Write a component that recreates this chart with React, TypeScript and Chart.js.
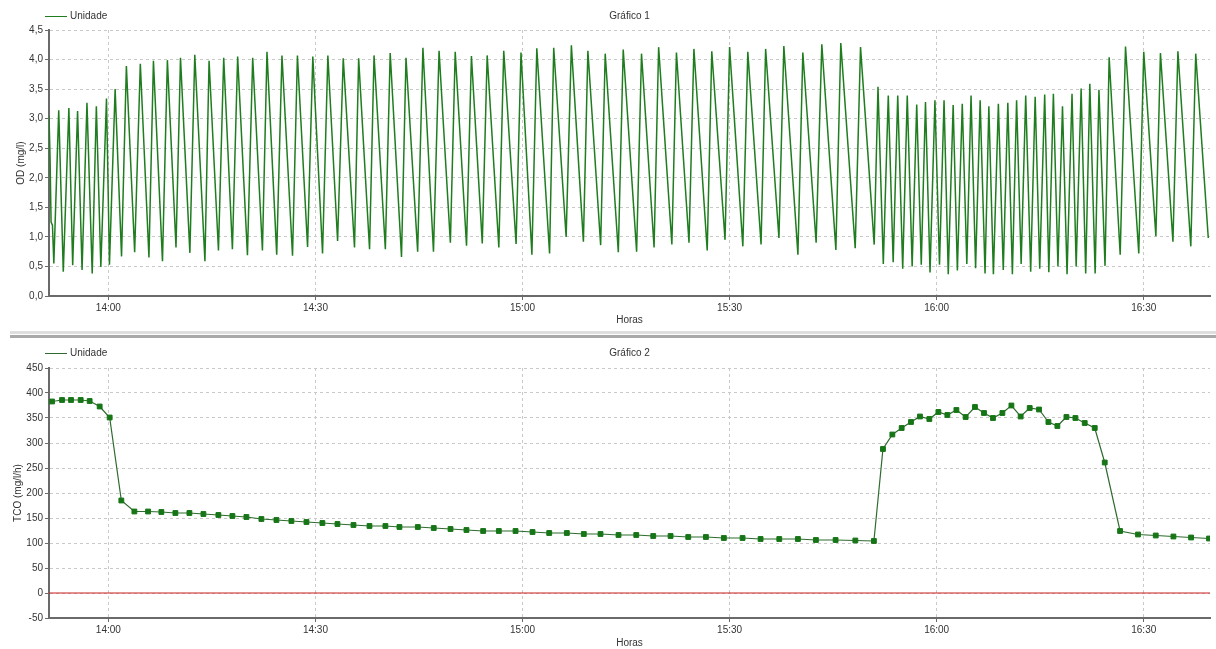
import { useEffect, useRef } from "react";
import { Chart, registerables } from "chart.js";

Chart.register(...registerables);

// ---- shared time axis (minutes relative to 14:00) ----
const X_MIN = -8.6;
const X_MAX = 159.6;
const xTickMinutes = [0, 30, 60, 90, 120, 150];
const xTickLabels = ["14:00", "14:30", "15:00", "15:30", "16:00", "16:30"];

// ---- Gráfico 1 : OD (mg/l) ----
const odMinutes = [
  -8.6, -8.45, -8.3, -8.1, -7.9,
  -7.19, -6.53, -5.72, -5.17, -4.46, -3.81, -3.1, -2.34, -1.74, -1.09, -0.27, 0.16, 0.98, 1.91,
  2.61, 3.81, 4.63, 5.88, 6.53, 7.84, 8.55, 9.8, 10.45, 11.81, 12.52, 13.99, 14.59, 15.95, 16.71, 17.97,
  18.73, 20.15, 20.91, 22.32, 22.98, 24.39, 25.15, 26.68, 27.39, 28.86, 29.62, 31.03, 31.8, 33.21,
  34.03, 35.66, 36.26, 37.84, 38.49, 40.13, 40.83, 42.47, 43.12, 44.81, 45.57, 47.1, 47.91, 49.55,
  50.25, 51.89, 52.6, 54.17, 54.88, 56.57, 57.28, 59.07, 59.78, 61.36, 62.07, 63.92, 64.52, 66.32,
  67.08, 68.82, 69.47, 71.32, 71.98, 73.88, 74.59, 76.53, 77.24, 79.06, 79.72, 81.64, 82.3, 84.12,
  84.83, 86.76, 87.42, 89.34, 90.0, 91.92, 92.64, 94.56, 95.22, 97.15, 97.86, 99.9, 100.61, 102.54,
  103.36, 105.4, 106.11, 108.2, 108.97, 110.95,
  111.5, 112.27, 112.99, 113.7, 114.36, 115.08, 115.74, 116.45, 117.11, 117.77, 118.38, 119.04,
  119.75, 120.41, 121.07, 121.68, 122.39, 123.0, 123.71, 124.37, 124.98, 125.64, 126.3, 127.01,
  127.56, 128.22, 128.94, 129.65, 130.31, 130.97, 131.58, 132.24, 132.9, 133.62, 134.27, 134.93,
  135.65, 136.25, 136.91, 137.57, 138.23, 138.89, 139.61, 140.21, 140.93, 141.59, 142.19, 142.96,
  143.51, 144.39,
  144.99, 146.59, 147.36, 149.28, 150.0, 151.76, 152.42, 154.23, 154.95, 156.82, 157.53, 159.35,
];
const odValues = [
  3.05, 2.35, 1.25, 1.2, 0.55,
  3.14, 0.41, 3.18, 0.52, 3.13, 0.44, 3.27, 0.38, 3.21, 0.49, 3.34, 0.53, 3.5, 0.67,
  3.89, 0.74, 3.93, 0.65, 3.98, 0.59, 3.99, 0.82, 4.03, 0.73, 4.08, 0.59, 3.98, 0.77, 4.03, 0.79,
  4.05, 0.69, 4.03, 0.77, 4.13, 0.7, 4.07, 0.68, 4.07, 0.83, 4.05, 0.72, 4.07, 0.93,
  4.02, 0.82, 4.02, 0.79, 4.07, 0.79, 4.11, 0.66, 4.03, 0.75, 4.2, 0.75, 4.15, 0.9,
  4.13, 0.85, 4.06, 0.89, 4.07, 0.82, 4.15, 0.88, 4.12, 0.7, 4.19, 0.72, 4.2, 1.0,
  4.24, 0.92, 4.15, 0.86, 4.1, 0.74, 4.17, 0.75, 4.1, 0.82, 4.21, 0.87, 4.12, 0.9,
  4.18, 0.77, 4.14, 0.95, 4.21, 0.84, 4.13, 0.87, 4.18, 0.98, 4.23, 0.7, 4.12, 0.9,
  4.26, 0.78, 4.28, 0.81, 4.21, 0.87,
  3.54, 0.54, 3.39, 0.57, 3.39, 0.46, 3.39, 0.5, 3.24, 0.53, 3.28, 0.4,
  3.31, 0.53, 3.31, 0.37, 3.23, 0.43, 3.25, 0.54, 3.39, 0.47, 3.31, 0.38,
  3.21, 0.37, 3.25, 0.44, 3.27, 0.37, 3.31, 0.54, 3.39, 0.41, 3.37, 0.46,
  3.41, 0.4, 3.42, 0.5, 3.21, 0.37, 3.42, 0.5, 3.51, 0.38, 3.59, 0.38,
  3.49, 0.51,
  4.04, 0.7, 4.22, 0.72, 4.13, 1.01, 4.11, 0.92, 4.14, 0.84, 4.1, 0.98,
];
const odTicks = [0, 0.5, 1, 1.5, 2, 2.5, 3, 3.5, 4, 4.5];
const odTickLabels = ["0,0", "0,5", "1,0", "1,5", "2,0", "2,5", "3,0", "3,5", "4,0", "4,5"];

// ---- Gráfico 2 : TCO (mg/l/h) ----
const tcoMinutes = [
  -8.16, -6.71, -5.41, -4.01, -2.71, -1.26, 0.19,
  1.88, 3.77, 5.75, 7.68, 9.71, 11.74, 13.77, 15.94, 17.97, 20.0, 22.17, 24.35, 26.52, 28.7, 31.01,
  33.19, 35.51, 37.83, 40.14, 42.17,
  44.83, 47.14, 49.57, 51.88, 54.3, 56.57, 58.99, 61.45, 63.87, 66.42, 68.88, 71.3, 73.91, 76.48,
  78.94, 81.45, 84.01, 86.57, 89.17, 91.88, 94.49, 97.2, 99.9, 102.51, 105.36,
  108.22, 110.91, 112.22, 113.58, 114.93, 116.28, 117.58, 118.94, 120.25, 121.55, 122.86, 124.2,
  125.55, 126.86, 128.16, 129.52, 130.83, 132.17, 133.48, 134.83, 136.19, 137.49, 138.8, 140.1,
  141.45, 142.9, 144.35, 146.57, 149.17, 151.74, 154.3, 156.86, 159.46,
];
const tcoValues = [
  383, 386, 386, 386, 384, 373, 351,
  185, 163, 163, 162, 160, 160, 158, 156, 154, 152, 148, 146, 144, 142, 140,
  138, 136, 134, 134, 132,
  132, 130, 128, 126, 124, 124, 124, 122, 120, 120, 118, 118, 116, 116,
  114, 114, 112, 112, 110, 110, 108, 108, 108, 106, 106,
  105, 104, 288, 317, 330, 342, 353, 348, 362, 356, 366, 352,
  372, 360, 350, 360, 375, 353, 370, 367, 342, 334, 352, 350,
  340, 330, 261, 124, 117, 115, 113, 111, 109,
];
const tcoTicks = [-50, 0, 50, 100, 150, 200, 250, 300, 350, 400, 450];
const zeroLineValues = [0, 0];

const FONT = "'Liberation Sans', Arial, sans-serif";
const TEXT = "#333333";
const GRID = "#c9c9c9";
const AXIS = "#6a6a6a";

const headerLegend = {
  id: "headerLegend",
  afterDraw(chart: any, _args: any, opts: any) {
    const ctx = chart.ctx;
    const ds = chart.data.datasets[0];
    ctx.save();
    ctx.strokeStyle = ds.borderColor;
    ctx.lineWidth = 1;
    ctx.beginPath();
    ctx.moveTo(opts.x, opts.y + 0.5);
    ctx.lineTo(opts.x + 22, opts.y + 0.5);
    ctx.stroke();
    ctx.font = `10px ${FONT}`;
    ctx.fillStyle = TEXT;
    ctx.textAlign = "left";
    ctx.textBaseline = "middle";
    ctx.fillText(ds.label, opts.x + 25, opts.y + 0.5);
    ctx.restore();
  },
};

function xScale(axisHeight: number, titleBottom: number) {
  return {
    type: "linear",
    min: X_MIN,
    max: X_MAX,
    afterBuildTicks: (s: any) => {
      s.ticks = xTickMinutes.map((v) => ({ value: v }));
    },
    afterFit: (s: any) => {
      s.height = axisHeight;
    },
    ticks: {
      autoSkip: false,
      maxRotation: 0,
      padding: 2,
      color: TEXT,
      font: { family: FONT, size: 10 },
      callback: (_v: any, i: number) => xTickLabels[i],
    },
    grid: { color: GRID, lineWidth: 1, tickLength: 4, tickColor: AXIS, tickWidth: 1 },
    border: { color: AXIS, width: 2, dash: [3, 3] },
    title: {
      display: true,
      text: "Horas",
      color: TEXT,
      font: { family: FONT, size: 10 },
      padding: { top: 0, bottom: titleBottom },
    },
  };
}

function yScale(min: number, max: number, ticks: number[], labels: string[], title: string, titlePad: number) {
  return {
    type: "linear",
    min,
    max,
    afterBuildTicks: (s: any) => {
      s.ticks = ticks.map((v) => ({ value: v }));
    },
    afterFit: (s: any) => {
      s.width = 49;
    },
    ticks: {
      autoSkip: false,
      padding: 2,
      color: TEXT,
      font: { family: FONT, size: 10 },
      callback: (_v: any, i: number) => labels[i],
    },
    grid: { color: GRID, lineWidth: 1, tickLength: 4, tickColor: AXIS, tickWidth: 1 },
    border: { color: AXIS, width: 2, dash: [3, 3] },
    title: {
      display: true,
      text: title,
      color: TEXT,
      font: { family: FONT, size: 10 },
      padding: { top: titlePad, bottom: 0 },
    },
  };
}

export default function App() {
  const topRef = useRef<HTMLCanvasElement | null>(null);
  const botRef = useRef<HTMLCanvasElement | null>(null);

  useEffect(() => {
    const n1 = Math.min(odMinutes.length, odValues.length);
    const odData = [];
    for (let i = 0; i < n1; i++) odData.push({ x: odMinutes[i], y: odValues[i] });

    const n2 = Math.min(tcoMinutes.length, tcoValues.length);
    const tcoData = [];
    for (let i = 0; i < n2; i++) tcoData.push({ x: tcoMinutes[i], y: tcoValues[i] });

    const top = new Chart(topRef.current as HTMLCanvasElement, {
      type: "line",
      data: {
        datasets: [
          {
            label: "Unidade",
            data: odData,
            borderColor: "#1f7d1f",
            borderWidth: 1.5,
            pointRadius: 0,
            tension: 0,
          },
        ],
      },
      options: {
        responsive: false,
        animation: false,
        events: [],
        layout: { padding: { left: 0, right: 6, top: 0, bottom: 0 } },
        plugins: {
          legend: { display: false },
          tooltip: { enabled: false },
          title: {
            display: true,
            text: "Gráfico 1",
            fullSize: false,
            color: TEXT,
            font: { family: FONT, size: 10, weight: "normal" },
            padding: { top: 10, bottom: 8 },
          },
          headerLegend: { x: 45, y: 16 },
        } as any,
        scales: {
          x: xScale(34, 4) as any,
          y: yScale(0, 4.5, odTicks, odTickLabels, "OD (mg/l)", 15) as any,
        },
      },
      plugins: [headerLegend as any],
    });

    const bottom = new Chart(botRef.current as HTMLCanvasElement, {
      type: "line",
      data: {
        datasets: [
          {
            label: "Unidade",
            data: tcoData,
            borderColor: "#2f6b2f",
            borderWidth: 1.2,
            pointStyle: "rect",
            pointRadius: 3.4,
            pointBackgroundColor: "#167516",
            pointBorderColor: "#167516",
            pointBorderWidth: 1,
            tension: 0,
          },
          {
            label: "zero",
            data: [
              { x: X_MIN, y: zeroLineValues[0] },
              { x: X_MAX, y: zeroLineValues[1] },
            ],
            borderColor: "#cc1f1f",
            borderWidth: 1,
            pointRadius: 0,
          },
        ],
      },
      options: {
        responsive: false,
        animation: false,
        events: [],
        layout: { padding: { left: 0, right: 6, top: 0, bottom: 0 } },
        plugins: {
          legend: { display: false },
          tooltip: { enabled: false },
          title: {
            display: true,
            text: "Gráfico 2",
            fullSize: false,
            color: TEXT,
            font: { family: FONT, size: 10, weight: "normal" },
            padding: { top: 8, bottom: 9 },
          },
          headerLegend: { x: 45, y: 14 },
        } as any,
        scales: {
          x: xScale(31, 0) as any,
          y: yScale(-50, 450, tcoTicks, tcoTicks.map((v) => String(v)), "TCO (mg/l/h)", 12) as any,
        },
      },
      plugins: [headerLegend as any],
    });

    return () => {
      top.destroy();
      bottom.destroy();
    };
  }, []);

  return (
    <div
      style={{
        position: "fixed",
        left: 0,
        top: 0,
        width: 1216,
        height: 649,
        background: "#ffffff",
        overflow: "hidden",
      }}
    >
      <canvas ref={topRef} width={1216} height={330} style={{ position: "absolute", left: 0, top: 0 }} />
      <div style={{ position: "absolute", left: 10, right: 0, top: 331, height: 3, background: "#dedede" }} />
      <div style={{ position: "absolute", left: 10, right: 0, top: 335, height: 3, background: "#a9a9a9" }} />
      <canvas ref={botRef} width={1216} height={310} style={{ position: "absolute", left: 0, top: 339 }} />
    </div>
  );
}
